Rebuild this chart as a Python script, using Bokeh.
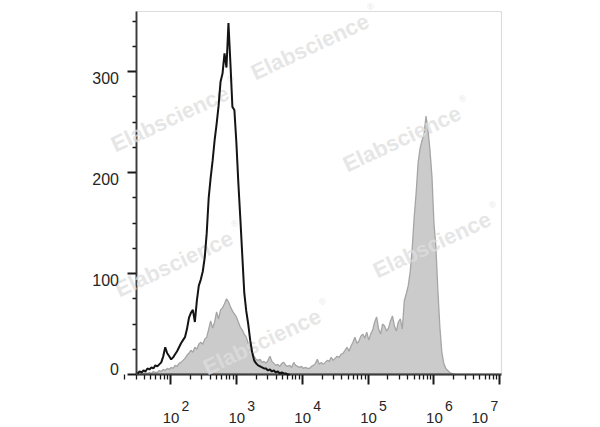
from bokeh.plotting import figure
from bokeh.models import Range1d, FixedTicker, Label, BoxAnnotation
from bokeh.embed import file_html
from bokeh.resources import INLINE

# ---------------- data ----------------
BIN_LOG_START = 1.50          # log10 of first bin centre
BIN_LOG_STEP = 0.03           # bin width in decades

# black open histogram (control)
control_counts = [
    1, 3, 2, 4, 3, 6, 5, 7, 6, 9,
    8, 10, 12, 18, 27, 21, 18, 15, 17, 20,
    23, 27, 31, 34, 37, 45, 56, 61, 64, 52,
    73, 88, 94, 102, 116, 140, 175, 195, 212, 232,
    248, 266, 290, 298, 318, 304, 348, 308, 265, 262,
    230, 190, 155, 118, 81, 63, 50, 34, 22, 14,
    11, 9, 8, 7, 6, 6, 4, 5, 3, 4,
    2, 3, 1, 2, 1, 1, 0, 0,
]

# grey filled histogram (stained)
stained_counts = [
    1, 0, 1, 1, 2, 1, 2, 1, 3, 2,
    2, 4, 3, 5, 4, 6, 5, 7, 6, 9,
    8, 11, 12, 14, 16, 19, 21, 24, 22, 27,
    25, 30, 32, 30, 35, 37, 45, 53, 46, 52,
    62, 55, 64, 66, 70, 75, 72, 67, 63, 60,
    57, 52, 47, 44, 40, 37, 31, 27, 22, 18,
    15, 14, 15, 12, 13, 11, 14, 18, 13, 11,
    9, 10, 8, 11, 12, 9, 8, 9, 7, 12,
    9, 8, 7, 8, 6, 7, 6, 6, 8, 9,
    11, 15, 10, 12, 10, 12, 14, 13, 17, 14,
    16, 18, 17, 20, 21, 24, 27, 23, 28, 32,
    37, 31, 33, 38, 40, 36, 42, 34, 40, 44,
    52, 57, 45, 40, 50, 48, 43, 46, 53, 58,
    48, 43, 52, 55, 45, 73, 80, 88, 102, 125,
    156, 180, 210, 224, 232, 238, 256, 242, 222, 196,
    150, 126, 83, 47, 22, 11, 6, 4, 2, 1,
    0, 0,
]

x_tick_values = [1e2, 1e3, 1e4, 1e5, 1e6, 1e7]
x_tick_bases = ["10", "10", "10", "10", "10", "10"]
x_tick_exponents = ["2", "3", "4", "5", "6", "7"]
y_tick_values = [0, 100, 200, 300]
y_minor_values = [25, 50, 75, 125, 150, 175, 225, 250, 275, 325, 350]
watermark_text = "Elabscience"
watermark_mark = "\u00ae"

# ---------------- layout (page pixels) ----------------
CANVAS_W, CANVAS_H = 600, 427
FRAME_LEFT, FRAME_TOP = 136, 11          # data area in page pixels
FRAME_W, FRAME_H = 365, 363
FRAME_BOTTOM = FRAME_TOP + FRAME_H
LOG_MIN = 1.4838
PX_PER_DECADE = 65.86
LOG_MAX = LOG_MIN + FRAME_W / PX_PER_DECADE
Y_MAX = 359.5
PX_PER_COUNT = FRAME_H / Y_MAX

FONT = "Liberation Sans"
TEXT_COLOR = "#262626"


def to_data(px, py):
    """page pixel -> data coordinates"""
    return (10 ** (LOG_MIN + (px - FRAME_LEFT) / PX_PER_DECADE),
            (FRAME_BOTTOM - py) / PX_PER_COUNT)


def shift_x(value, dx):
    return value * 10 ** (dx / PX_PER_DECADE)


ctrl_x = [10 ** (BIN_LOG_START + i * BIN_LOG_STEP) for i in range(len(control_counts))]
stain_x = [10 ** (BIN_LOG_START + i * BIN_LOG_STEP) for i in range(len(stained_counts))]

x0, y0 = to_data(0, CANVAS_H)
x1, y1 = to_data(CANVAS_W, 0)

p = figure(
    x_axis_type="log",
    x_range=Range1d(x0, x1),
    y_range=Range1d(y0, y1),
    width=CANVAS_W, height=CANVAS_H,
    min_border=0,
    output_backend="svg", toolbar_location=None,
    background_fill_color="white", border_fill_color="white",
)
p.grid.visible = False
p.outline_line_color = None

# ---- axes (fixed inside the canvas, bounded to the data area) ----
x_minor = [k * 10 ** d for d in range(1, 7) for k in range(2, 10)]
p.xaxis.ticker = FixedTicker(ticks=x_tick_values, minor_ticks=x_minor)
p.xaxis.major_label_overrides = {v: "" for v in x_tick_values}
p.xaxis.fixed_location = 0
p.xaxis.bounds = (10 ** LOG_MIN, 10 ** LOG_MAX)
p.yaxis.ticker = FixedTicker(ticks=y_tick_values, minor_ticks=y_minor_values)
p.yaxis.major_label_overrides = {v: "" for v in y_tick_values}
p.yaxis.fixed_location = 10 ** LOG_MIN
p.yaxis.bounds = (0, Y_MAX)
for ax in (p.xaxis, p.yaxis):
    ax.axis_line_color = "#1a1a1a"
    ax.axis_line_width = 1.8
    ax.major_tick_line_color = "#1a1a1a"
    ax.major_tick_line_width = 2
    ax.minor_tick_line_color = "#1a1a1a"
    ax.minor_tick_line_width = 1.3
    ax.major_tick_in = 0
    ax.minor_tick_in = 0
p.xaxis.major_tick_out = 10
p.xaxis.minor_tick_out = 5
p.yaxis.major_tick_out = 9
p.yaxis.minor_tick_out = 4

# ---- histograms ----
p.varea(x=stain_x, y1=0, y2=stained_counts, fill_color="#cbcbcb")
p.line(stain_x, stained_counts, line_color="#a5a5a5", line_width=1.3)

# data-area border (top / right edges in grey)
p.add_layout(BoxAnnotation(left=10 ** LOG_MIN, right=10 ** LOG_MAX, bottom=0, top=Y_MAX,
                           fill_color=None, fill_alpha=0,
                           line_color="#8c8c8c", line_width=1.2))

# ---- watermarks (below the black curve) ----
WM_ANGLE = 25
WM_BASELINES = [(255, 80), (115, 152), (347, 172), (119, 297), (377, 278), (207, 375)]
WM_MID_SHIFT = (-3.2, -6.9)      # baseline -> text middle, along the rotated normal
WM_MARK_OFFSET = (115, -74)
for (bx, by) in WM_BASELINES:
    wx, wy = to_data(bx + WM_MID_SHIFT[0], by + WM_MID_SHIFT[1])
    p.add_layout(Label(x=wx, y=wy, text=watermark_text, angle=WM_ANGLE, angle_units="deg",
                       text_font=FONT, text_font_style="bold", text_font_size="22px",
                       text_color="#dedede", text_alpha=0.77,
                       text_align="left", text_baseline="middle"))
    mx, my = to_data(bx + WM_MARK_OFFSET[0], by + WM_MARK_OFFSET[1])
    p.add_layout(Label(x=mx, y=my, text=watermark_mark, angle=WM_ANGLE, angle_units="deg",
                       text_font=FONT, text_font_size="9px",
                       text_color="#dedede", text_alpha=0.77,
                       text_align="center", text_baseline="middle"))

p.line(ctrl_x, control_counts, line_color="#141414", line_width=2, level="overlay")

# ---- x tick labels: 10 with superscript exponent ----
BASE_MID_PX = 417
EXP_MID_PX = 405
_, base_y = to_data(0, BASE_MID_PX)
_, exp_y = to_data(0, EXP_MID_PX)
for i, (tv, base, ex) in enumerate(zip(x_tick_values, x_tick_bases, x_tick_exponents)):
    last = i == len(x_tick_values) - 1
    base_dx = -20 if last else 0.5
    exp_dx = -9.3 if last else 11
    p.add_layout(Label(x=shift_x(tv, base_dx), y=base_y, text=base,
                       text_font=FONT, text_font_size="15px", text_color=TEXT_COLOR,
                       text_align="center", text_baseline="middle"))
    p.add_layout(Label(x=shift_x(tv, exp_dx), y=exp_y, text=ex,
                       text_font=FONT, text_font_size="14px", text_color=TEXT_COLOR,
                       text_align="left", text_baseline="middle"))

# ---- y tick labels ----
label_x, _ = to_data(118.5, 0)
for tv in y_tick_values:
    shift_px = 6.5 if tv > 0 else -6
    p.add_layout(Label(x=label_x, y=tv - shift_px / PX_PER_COUNT, text=str(tv),
                       text_font=FONT, text_font_size="16px", text_color=TEXT_COLOR,
                       text_align="right", text_baseline="middle"))

open("out.html", "w").write(file_html(p, INLINE))
